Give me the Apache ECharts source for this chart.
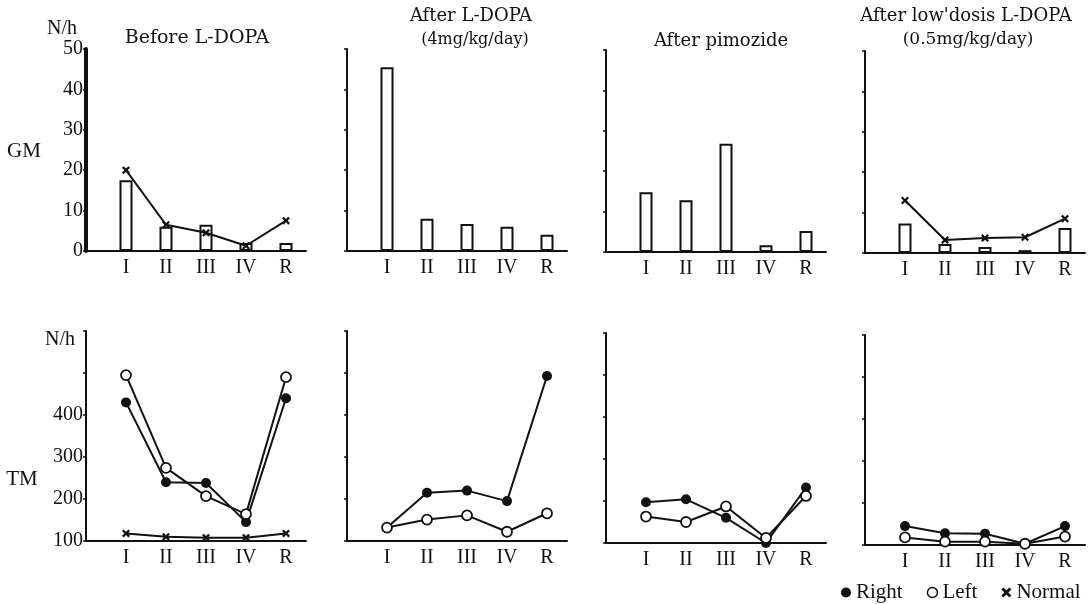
<!DOCTYPE html>
<html>
<head>
<meta charset="utf-8">
<script src="https://cdn.jsdelivr.net/npm/echarts@6/dist/echarts.min.js"></script>
<style>
  html, body { margin: 0; padding: 0; background: #fff; }
  #chart { width: 1091px; height: 604px; }
</style>
</head>
<body>
<div id="chart"></div>
<script>
// categories (stages)
const cats = ['I', 'II', 'III', 'IV', 'R'];

// GM, N/h (bars = patient, Normal = x line)
const gmBefore = [17.5, 6, 6.5, 2, 2];
const gmAfterLdopa = [45.5, 8, 6.7, 6, 4];
const gmPimozide = [14.8, 12.8, 26.8, 1.7, 5.2];
const gmLowDose = [7.3, 2.2, 1.5, 0.7, 6.2];
const gmNormalBefore = [20, 6.5, 4.5, 1.3, 7.5];
const gmNormalLowDose = [13, 3.2, 3.7, 3.9, 8.5];

// TM, N/h
const tmRightBefore = [430, 240, 238, 145, 440];
const tmLeftBefore = [495, 274, 207, 164, 490];
const tmNormalBefore = [118, 110, 108, 108, 118];
const tmRightAfterLdopa = [132, 215, 220, 195, 493];
const tmLeftAfterLdopa = [132, 151, 161, 122, 166];
const tmRightPimozide = [197, 204, 160, 100, 232];
const tmLeftPimozide = [163, 150, 187, 112, 212];
const tmRightLowDose = [145, 128, 127, 103, 145];
const tmLeftLowDose = [118, 108, 108, 103, 120];

const gmTicks = [0, 10, 20, 30, 40, 50];
const tmTicks = [100, 200, 300, 400];

const ink = '#111';
const serif = 'Liberation Serif';
const crossPath = 'path://M0,2 L2,0 L5,3 L8,0 L10,2 L7,5 L10,8 L8,10 L5,7 L2,10 L0,8 L3,5 Z';

const lefts = [86, 347, 606, 865];
const gridW = 220;

const chart = echarts.init(document.getElementById('chart'));

let grids = [], xAxes = [], yAxes = [], series = [];

function pts(arr) {
  return arr.map((v, i) => [i + 1, v]);
}

function addPanel(left, top, height, yMin, yMax, showLabels, labelSet, axisWidth) {
  const k = grids.length;
  grids.push({ left: left, top: top, width: gridW, height: height });
  xAxes.push({
    type: 'value', gridIndex: k, min: 0, max: 5.5, interval: 1,
    axisLine: { onZero: false, lineStyle: { color: ink, width: 2 } },
    axisTick: { show: false },
    splitLine: { show: false },
    axisLabel: {
      margin: 7, color: ink, fontFamily: serif, fontSize: 20,
      formatter: v => (Number.isInteger(v) && v >= 1 && v <= 5) ? cats[v - 1] : ''
    }
  });
  yAxes.push({
    type: 'value', gridIndex: k, min: yMin, max: yMax,
    interval: yMin == 0 ? 10 : 100,
    axisLine: { show: true, onZero: false, lineStyle: { color: ink, width: axisWidth } },
    axisTick: { show: true, length: 3, lineStyle: { color: ink, width: 1.5 } },
    splitLine: { show: false },
    axisLabel: {
      show: showLabels, margin: 3, color: ink, fontFamily: serif, fontSize: 20,
      formatter: v => labelSet.indexOf(v) >= 0 ? String(v) : ''
    }
  });
  return k;
}

function bars(k, data) {
  series.push({
    type: 'bar', name: 'GM', xAxisIndex: k, yAxisIndex: k, barWidth: 13,
    itemStyle: { color: '#fff', borderColor: ink, borderWidth: 2 },
    data: pts(data)
  });
}

function line(k, name, data) {
  let s = {
    type: 'line', name: name, xAxisIndex: k, yAxisIndex: k, clip: false,
    lineStyle: { color: ink, width: 2 },
    data: pts(data)
  };
  if (name == 'Right') {
    s.symbol = 'circle'; s.symbolSize = 10;
    s.itemStyle = { color: ink };
  } else if (name == 'Left') {
    s.symbol = 'circle'; s.symbolSize = 10;
    s.itemStyle = { color: '#fff', borderColor: ink, borderWidth: 1.8 };
  } else {
    s.symbol = crossPath; s.symbolSize = 8;
    s.itemStyle = { color: ink };
  }
  series.push(s);
}

// top row: GM
let p;
p = addPanel(lefts[0], 49, 202, 0, 50, true, gmTicks, 4);
bars(p, gmBefore);
line(p, 'Normal', gmNormalBefore);
p = addPanel(lefts[1], 49, 202, 0, 50, false, [], 2);
bars(p, gmAfterLdopa);
p = addPanel(lefts[2], 50, 202, 0, 50, false, [], 2);
bars(p, gmPimozide);
p = addPanel(lefts[3], 51, 202, 0, 50, false, [], 2);
bars(p, gmLowDose);
line(p, 'Normal', gmNormalLowDose);

// bottom row: TM
p = addPanel(lefts[0], 331, 210, 100, 600, true, tmTicks, 2);
line(p, 'Right', tmRightBefore);
line(p, 'Left', tmLeftBefore);
line(p, 'Normal', tmNormalBefore);
p = addPanel(lefts[1], 331, 210, 100, 600, false, [], 2);
line(p, 'Right', tmRightAfterLdopa);
line(p, 'Left', tmLeftAfterLdopa);
p = addPanel(lefts[2], 333, 210, 100, 600, false, [], 2);
line(p, 'Right', tmRightPimozide);
line(p, 'Left', tmLeftPimozide);
p = addPanel(lefts[3], 335, 210, 100, 600, false, [], 2);
line(p, 'Right', tmRightLowDose);
line(p, 'Left', tmLeftLowDose);

function txt(x, y, text, size, align, font) {
  return {
    type: 'text', x: x, y: y, silent: true,
    style: {
      text: text, fill: ink, align: align || 'center', verticalAlign: 'middle',
      font: (size || 19) + 'px "' + (font || 'DejaVu Serif') + '"'
    }
  };
}

let option = {
  animation: false,
  backgroundColor: '#fff',
  grid: grids,
  xAxis: xAxes,
  yAxis: yAxes,
  series: series,
  legend: {
    left: 836, top: 577, itemGap: 24, itemWidth: 10, itemHeight: 10,
    textStyle: { color: ink, fontFamily: serif, fontSize: 21 },
    data: [
      { name: 'Right', icon: 'circle', itemStyle: { color: ink, borderWidth: 0 } },
      { name: 'Left', icon: 'circle', itemStyle: { color: '#fff', borderColor: ink, borderWidth: 1.5 } },
      { name: 'Normal', icon: crossPath, itemStyle: { color: ink, borderWidth: 0 } }
    ],
    selectedMode: false
  },
  graphic: [
    txt(197, 38, 'Before L-DOPA', 19),
    txt(471, 16, 'After L-DOPA', 18),
    txt(475, 40, '(4mg/kg/day)', 16),
    txt(721, 41, 'After pimozide', 18),
    txt(966, 16, "After low'dosis L-DOPA", 18),
    txt(968, 40, '(0.5mg/kg/day)', 17),
    txt(62, 29, 'N/h', 20, 'center', serif),
    txt(60, 340, 'N/h', 20, 'center', serif),
    txt(24, 151, 'GM', 21, 'center', serif),
    txt(22, 479, 'TM', 21, 'center', serif)
  ]
};

chart.setOption(option);
</script>
</body>
</html>
